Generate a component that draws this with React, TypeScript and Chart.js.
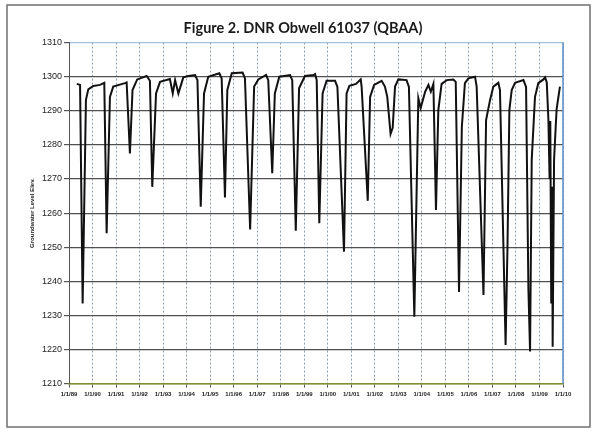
import React, { useEffect, useRef } from "react";
import { Chart, registerables } from "chart.js";

Chart.register(...registerables);

const chartTitle = "Figure 2. DNR Obwell 61037 (QBAA)";
const yAxisTitle = "Groundwater Level Elev.";

const xTickLabels = [
  "1/1/89", "1/1/90", "1/1/91", "1/1/92", "1/1/93", "1/1/94", "1/1/95",
  "1/1/96", "1/1/97", "1/1/98", "1/1/99", "1/1/00", "1/1/01", "1/1/02",
  "1/1/03", "1/1/04", "1/1/05", "1/1/06", "1/1/07", "1/1/08", "1/1/09", "1/1/10",
];

// decimal year of each observation
const years = [
  1989.33, 1989.47, 1989.58, 1989.72, 1989.82, 1990.03, 1990.32, 1990.50, 1990.60, 1990.74,
  1990.88, 1991.38, 1991.45, 1991.59, 1991.70, 1991.90, 1992.30, 1992.44, 1992.54, 1992.70,
  1992.87, 1993.29, 1993.41, 1993.51, 1993.65, 1993.86, 1994.07, 1994.36, 1994.46, 1994.60,
  1994.74, 1994.92, 1995.39, 1995.49, 1995.63, 1995.73, 1995.92, 1996.38, 1996.48, 1996.70,
  1996.87, 1997.05, 1997.38, 1997.47, 1997.64, 1997.75, 1997.94, 1998.40, 1998.49, 1998.64,
  1998.78, 1999.03, 1999.39, 1999.46, 1999.53, 1999.64, 1999.78, 1999.95, 2000.31, 2000.41,
  2000.69, 2000.80, 2000.92, 2001.20, 2001.40, 2001.44, 2001.70, 2001.80, 2001.97, 2002.29,
  2002.43, 2002.53, 2002.67, 2002.76, 2002.86, 2003.00, 2003.35, 2003.45, 2003.68, 2003.85,
  2003.95, 2004.14, 2004.28, 2004.38, 2004.49, 2004.60, 2004.70, 2004.84, 2005.06, 2005.34,
  2005.44, 2005.58, 2005.70, 2005.83, 2005.98, 2006.26, 2006.33, 2006.62, 2006.73, 2006.90,
  2007.04, 2007.25, 2007.32, 2007.56, 2007.64, 2007.72, 2007.82, 2007.96, 2008.32, 2008.43,
  2008.53, 2008.60, 2008.67, 2008.81, 2008.95, 2009.17, 2009.24, 2009.31, 2009.38, 2009.43,
  2009.46, 2009.50, 2009.54, 2009.56, 2009.62, 2009.69, 2009.73, 2009.87,
];

// groundwater level elevation (ft)
const levels = [
  1297.9, 1297.6, 1233.5, 1293.2, 1296.3, 1297.3, 1297.6, 1298.2, 1254.1, 1294.1,
  1297.1, 1298.1, 1298.3, 1277.5, 1296.1, 1299.2, 1300.2, 1298.8, 1267.7, 1295.1,
  1298.5, 1299.3, 1295.1, 1299.0, 1295.1, 1299.8, 1300.2, 1300.5, 1299.0, 1261.9,
  1295.1, 1300.0, 1301.0, 1299.5, 1264.6, 1296.1, 1301.0, 1301.2, 1299.5, 1255.2,
  1297.1, 1299.2, 1300.5, 1299.0, 1271.7, 1295.1, 1300.0, 1300.5, 1299.0, 1254.8,
  1296.6, 1300.2, 1300.5, 1300.8, 1299.0, 1257.0, 1295.1, 1298.8, 1298.8, 1297.0,
  1248.7, 1295.1, 1297.3, 1297.9, 1299.2, 1297.0, 1263.6, 1294.1, 1297.6, 1298.8,
  1297.1, 1294.1, 1283.2, 1285.0, 1297.1, 1299.2, 1299.0, 1297.0, 1229.6, 1293.7,
  1290.8, 1295.6, 1297.6, 1295.6, 1297.9, 1260.9, 1290.2, 1297.9, 1299.0, 1299.2,
  1298.5, 1236.9, 1285.3, 1298.1, 1299.5, 1300.0, 1297.0, 1236.0, 1287.3, 1293.2,
  1297.1, 1298.2, 1296.1, 1221.3, 1250.0, 1290.2, 1296.1, 1298.2, 1299.0, 1297.0,
  1237.5, 1219.4, 1275.6, 1294.1, 1298.1, 1299.2, 1299.8, 1298.3, 1287.3, 1270.0,
  1287.0, 1233.5, 1267.7, 1220.8, 1275.6, 1285.3, 1290.6, 1297.1,
];

const yMin = 1210;
const yMax = 1310;
const yStep = 10;
const xStart = 1989;
const xEnd = 2010;

const decorPlugin = {
  id: "decor",
  beforeDraw(chart: any) {
    const ctx = chart.ctx;
    ctx.save();
    ctx.fillStyle = "#ffffff";
    ctx.fillRect(0, 0, chart.width, chart.height);
    ctx.restore();
  },
  beforeDatasetsDraw(chart: any) {
    const { ctx, chartArea } = chart;
    ctx.save();
    ctx.strokeStyle = "#5b8fc7";
    ctx.lineWidth = 1.5;
    ctx.beginPath();
    ctx.moveTo(chartArea.right, chartArea.top);
    ctx.lineTo(chartArea.right, chartArea.bottom);
    ctx.stroke();
    ctx.restore();
  },
  afterDraw(chart: any) {
    const { ctx, chartArea } = chart;
    ctx.save();
    // outer frame
    ctx.strokeStyle = "#707070";
    ctx.lineWidth = 1.5;
    ctx.strokeRect(7, 5, 583, 422);
    // title
    ctx.fillStyle = "#1a1a1a";
    ctx.font = 'bold 14.5px "Lato"';
    ctx.textAlign = "center";
    ctx.textBaseline = "alphabetic";
    ctx.fillText(chartTitle, 303, 33);
    // y axis title
    ctx.translate(32, (chartArea.top + chartArea.bottom) / 2);
    ctx.rotate(-Math.PI / 2);
    ctx.font = 'bold 6px "Liberation Sans"';
    ctx.textBaseline = "middle";
    ctx.fillStyle = "#222";
    ctx.fillText(yAxisTitle, 0, 0);
    ctx.restore();
  },
};

export default function App() {
  const ref = useRef<HTMLCanvasElement | null>(null);

  useEffect(() => {
    if (!ref.current) return;
    const points = years.map((x, i) => ({ x, y: levels[i] }));
    const chart = new Chart(ref.current, {
      type: "line",
      data: {
        datasets: [
          {
            data: points,
            borderColor: "#111111",
            borderWidth: 2,
            pointRadius: 0,
            tension: 0,
            fill: false,
          },
        ],
      },
      options: {
        animation: false,
        responsive: false,
        layout: { padding: { top: 42.6, right: 32, bottom: 0, left: 0 } },
        plugins: {
          legend: { display: false },
          title: { display: false },
          tooltip: { enabled: false },
        },
        scales: {
          x: {
            type: "linear",
            min: xStart,
            max: xEnd,
            afterFit: (s: any) => {
              s.height = 433 - 383.6;
            },
            ticks: {
              stepSize: 1,
              autoSkip: false,
              maxRotation: 0,
              padding: 3,
              color: "#222",
              font: { family: "Liberation Sans", size: 6, weight: "bold" },
              callback: (v: any) => xTickLabels[Math.round(Number(v) - xStart)] ?? "",
            },
            grid: {
              color: "#8f9ba6",
              lineWidth: 1,
              tickLength: 4,
              tickColor: "#555",
            },
            border: { display: true, color: "#7f8f30", width: 1.5, dash: [2, 2] },
          },
          y: {
            min: yMin,
            max: yMax,
            afterFit: (s: any) => {
              s.width = 69;
            },
            ticks: {
              stepSize: yStep,
              padding: 2,
              color: "#222",
              font: { family: "Liberation Sans", size: 9 },
              callback: (v: any) => String(v),
            },
            grid: {
              color: (c: any) =>
                c.tick && c.tick.value === yMax
                  ? "#9cc0de"
                  : c.tick && c.tick.value === yMin
                  ? "#7f8f30"
                  : "#505050",
              lineWidth: 1.2,
              tickLength: 5,
              tickColor: "#555",
            },
            border: { display: true, color: "#555", width: 1 },
          },
        },
      },
      plugins: [decorPlugin],
    });
    return () => chart.destroy();
  }, []);

  return (
    <div style={{ position: "absolute", left: 0, top: 0, width: 595, height: 433 }}>
      <canvas ref={ref} width={595} height={433} style={{ width: 595, height: 433 }} />
    </div>
  );
}
